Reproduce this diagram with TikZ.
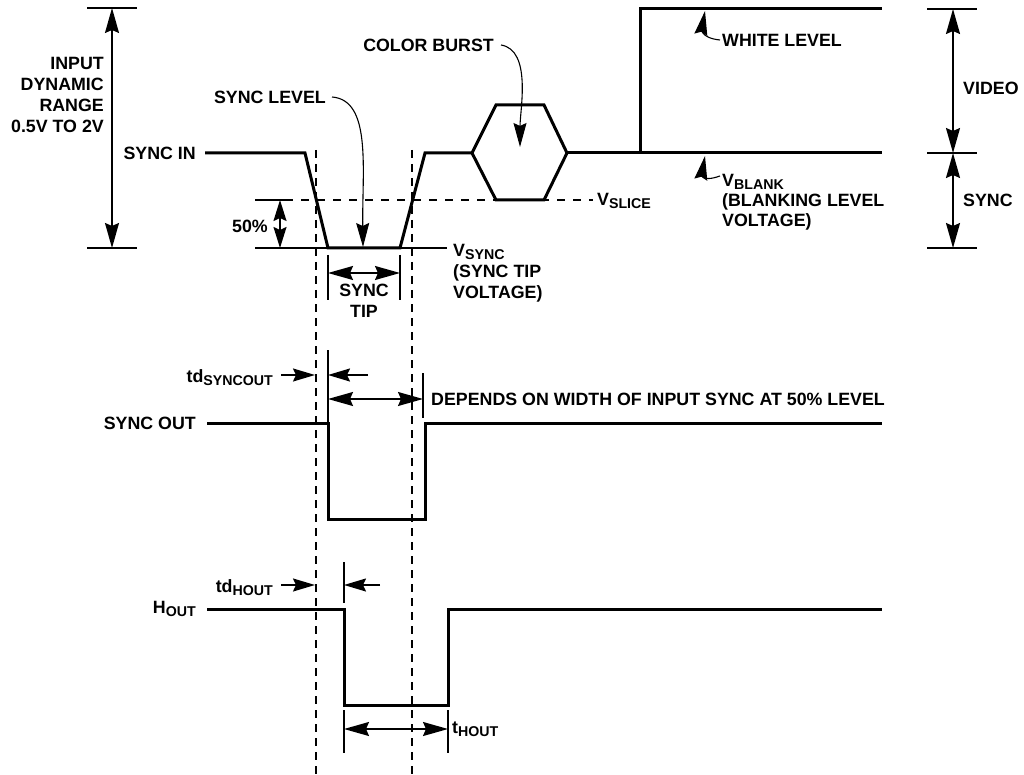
\documentclass[tikz,border=0pt]{standalone}
\usepackage{fontspec}
\setmainfont{Liberation Sans}
\usetikzlibrary{arrows.meta,positioning}

\newcommand{\lowsub}[1]{\raisebox{-0.32ex}{\fontsize{14.2}{14.2}\selectfont #1}}

\begin{document}
\begin{tikzpicture}[
  	x=1pt,
  	y=-1pt,
  	font=\bfseries\fontsize{17.8}{21}\selectfont,
  	txt/.style={inner sep=0pt},
  	signal/.style={line width=3pt,line join=miter},
  	tickline/.style={line width=1.6pt},
  	guide/.style={line width=2pt,dash pattern=on 8pt off 6pt},
  	sliceline/.style={line width=1.6pt,dash pattern=on 8pt off 8pt},
  	dim/.style={line width=1.6pt,{Stealth[length=25pt,width=14pt,inset=3pt]}-{Stealth[length=25pt,width=14pt,inset=3pt]}},
  	shortdim/.style={line width=1.6pt,{Stealth[length=21pt,width=13pt,inset=3pt]}-{Stealth[length=21pt,width=13pt,inset=3pt]}},
  	pointer/.style={line width=1.6pt,-{Stealth[length=22pt,width=13pt,inset=3pt]}},
  	callout/.style={line width=1.1pt,-{Stealth[length=24pt,width=13pt,inset=3pt]}}
  	]
  	\useasboundingbox (0,0) rectangle (1024,775);
  	
  	% Labels
  	\node[txt,anchor=north east,align=right] (range) at (104,57) {INPUT\\DYNAMIC\\RANGE\\0.5V TO 2V};
  	\node[txt,anchor=east] (syncin) at (196,153) {SYNC IN};
  	\node[txt,anchor=east] (synclvl) at (326,97) {SYNC LEVEL};
  	\node[txt,anchor=east] (burst) at (494,45) {COLOR BURST};
  	\node[txt,anchor=west] (white) at (722,40) {WHITE LEVEL};
  	\node[txt,anchor=west] (video) at (963,88) {VIDEO};
  	\node[txt,anchor=west] (syncr) at (963,200) {SYNC};
  	\node[txt,anchor=north west,align=left,font=\bfseries\fontsize{17.8}{20}\selectfont] (vblank) at (722,174) {V\lowsub{BLANK}\\(BLANKING LEVEL\\VOLTAGE)};
  	\node[txt,anchor=west] (vslice) at (597,201) {V\lowsub{SLICE}};
  	\node[txt,anchor=east] (half) at (268,226) {50\%};
  	\node[txt,anchor=north west,align=left] (vsync) at (453,244) {V\lowsub{SYNC}\\(SYNC TIP\\VOLTAGE)};
  	\node[txt,anchor=north,align=center] (tipw) at (364,284) {SYNC\\TIP};
  	\node[txt,anchor=east] (tdsync) at (273,378) {td\lowsub{SYNCOUT}};
  	\node[txt,anchor=west] (depends) at (431,399) {DEPENDS ON WIDTH OF INPUT SYNC AT 50\% LEVEL};
  	\node[txt,anchor=east] (syncout) at (196,423) {SYNC OUT};
  	\node[txt,anchor=east] (tdhout) at (273,588) {td\lowsub{HOUT}};
  	\node[txt,anchor=east] (hout) at (196,609) {H\lowsub{OUT}};
  	\node[txt,anchor=west] (thout) at (452,729) {t\lowsub{HOUT}};
  	
  	% Guide lines
  	\foreach \x in {316,412} {
  		\draw[guide] (\x,150) -- (\x,775);
  	}
  	
  	% Sync in waveform
  	\draw[signal] (205,153) -- (305,153) -- (328,248) -- (400,248) -- (425,153) -- (472,153);
  	\draw[signal] (472,153) -- (496,105) -- (544,105) -- (567,153) -- (544,200) -- (496,200) -- cycle;
  	\draw[signal] (567,153) -- (882,153);
  	\draw[signal] (640,153) -- (640,9) -- (882,9);
  	
  	% Input range
  	\coordinate (rangetop) at (112,8);
  	\coordinate (rangebot) at (112,248);
  	\draw[tickline] (87,8) -- (137,8);
  	\draw[tickline] (87,248) -- (137,248);
  	\draw[dim] (rangetop) -- (rangebot);
  	
  	% 50% slice level
  	\coordinate (halftop) at (280,200);
  	\coordinate (halfbot) at (280,248);
  	\draw[tickline] (255,200) -- (293,200);
  	\draw[sliceline] (301,200) -- (593,200);
  	\draw[tickline] (255,248) -- (447,248);
  	\draw[shortdim] (halftop) -- (halfbot);
  	
  	% Sync tip width
  	\draw[tickline] (328,255) -- (328,300);
  	\draw[tickline] (400,255) -- (400,300);
  	\draw[dim] (328,273) -- (400,273);
  	
  	% Video and sync amplitudes
  	\foreach \y in {9,153,248} {
  		\draw[tickline] (927,\y) -- (977,\y);
  	}
  	\coordinate (vidtop) at (953,9);
  	\coordinate (vidbot) at (953,153);
  	\coordinate (synbot) at (953,248);
  	\draw[dim] (vidtop) -- (vidbot);
  	\draw[dim] (vidbot) -- (synbot);
  	
  	% Callouts
  	\draw[callout] ([xshift=6pt]synclvl.east) .. controls (372,100) and (362,170) .. (363,247);
  	\draw[callout] ([xshift=7pt]burst.east) .. controls (532,50) and (520,110) .. (520,147);
  	\draw[callout] ([xshift=-2pt]white.west) .. controls (700,38) and (702,28) .. (705,11);
  	\draw[callout] ([xshift=-2pt,yshift=-2pt]vblank.north west) .. controls (700,183) and (702,173) .. (705,156);
  	
  	% Sync out waveform
  	\draw[signal] (207,423) -- (328,423) -- (328,519) -- (425,519) -- (425,423) -- (882,423);
  	\draw[tickline] (328,350) -- (328,423);
  	\draw[tickline] (423,373) -- (423,418);
  	\draw[pointer] ([xshift=8pt]tdsync.east |- 0,375) -- (315,375);
  	\draw[pointer] (368,375) -- (328,375);
  	\draw[dim] (328,399) -- (423,399);
  	
  	% H out waveform
  	\draw[signal] (207,609) -- (344,609) -- (344,705) -- (448,705) -- (448,609) -- (882,609);
  	\draw[tickline] (344,562) -- (344,603);
  	\draw[pointer] ([xshift=8pt]tdhout.east |- 0,585) -- (315,585);
  	\draw[pointer] (380,585) -- (344,585);
  	\draw[tickline] (344,710) -- (344,753);
  	\draw[tickline] (448,710) -- (448,753);
  	\draw[dim] (344,729) -- (448,729);
  \end{tikzpicture}
\end{document}
